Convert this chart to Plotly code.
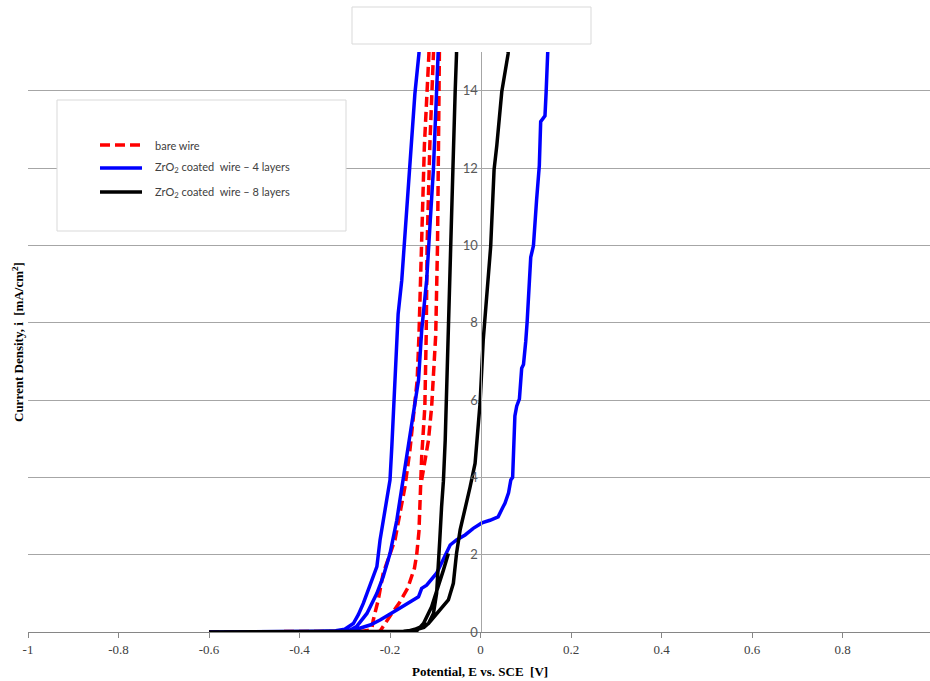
import plotly.graph_objects as go

# ---------------- data ----------------
# bare wire (dashed red) : potential E [V] vs. current density i [mA/cm2]
bare_E = [-0.600, -0.500, -0.400, -0.300, -0.260, -0.245, -0.240, -0.237, -0.226, -0.215,
          -0.200, -0.189, -0.178, -0.167, -0.156, -0.149, -0.140, -0.136, -0.130, -0.124,
          -0.114, -0.112,
          -0.102, -0.104, -0.112, -0.118, -0.120, -0.123, -0.130, -0.134, -0.136, -0.141,
          -0.146, -0.161, -0.180, -0.196, -0.215, -0.222, -0.232,
          None,
          -0.130, -0.115, -0.108, -0.099, -0.095, -0.092, -0.091, -0.090]
bare_i = [0.00, 0.00, 0.00, 0.01, 0.02, 0.05, 0.10, 0.31, 0.83, 1.52,
          2.03, 2.38, 3.07, 3.75, 4.70, 5.48, 6.50, 7.67, 10.00, 12.58,
          14.95, 16.00,
          16.00, 14.95, 12.58, 10.00, 7.67, 5.82, 4.53, 3.50, 2.60, 2.00,
          1.65, 1.13, 0.74, 0.48, 0.12, 0.02, 0.00,
          None,
          3.93, 4.96, 5.82, 7.67, 10.00, 12.58, 14.95, 16.00]

# ZrO2 coated wire - 4 layers (blue)
l4_E = [-0.600, -0.500, -0.420, -0.360, -0.320, -0.300, -0.281, -0.270, -0.259, -0.240,
        -0.229, -0.222, -0.211, -0.200, -0.196, -0.189, -0.182, -0.174, -0.163, -0.156,
        -0.145, -0.136, -0.133,
        -0.090, -0.093, -0.097, -0.104, -0.112, -0.119, -0.130, -0.137, -0.145, -0.156,
        -0.171, -0.185, -0.200, -0.215, -0.229, -0.251, -0.274, -0.288, -0.300,
        -0.274, -0.244, -0.222, -0.185, -0.160, -0.137, -0.130, -0.119, -0.097, -0.090,
        -0.075, -0.067, -0.053, -0.034, -0.016, 0.003, 0.021, 0.039, 0.050, 0.054,
        0.062, 0.067, 0.071, 0.073, 0.076, 0.080, 0.086, 0.091, 0.095, 0.100,
        0.103, 0.111, 0.117, 0.124, 0.130, 0.133, 0.1425, 0.145, 0.150, 0.152]
l4_i = [0.00, 0.00, 0.01, 0.02, 0.03, 0.07, 0.22, 0.45, 0.74, 1.34,
        1.69, 2.38, 3.15, 3.93, 4.79, 6.51, 8.23, 9.10, 10.82, 11.98,
        13.92, 14.96, 16.00,
        16.00, 14.95, 14.00, 11.98, 10.47, 9.10, 7.80, 6.51, 5.91, 5.05,
        3.93, 2.89, 2.03, 1.43, 1.00, 0.48, 0.14, 0.05, 0.03,
        0.07, 0.18, 0.31, 0.57, 0.74, 0.91, 1.13, 1.21, 1.52, 1.69,
        2.03, 2.25, 2.38, 2.51, 2.68, 2.82, 2.89, 2.98, 3.24, 3.33,
        3.60, 3.93, 4.00, 5.00, 5.59, 5.84, 6.03, 6.82, 6.92, 7.52,
        8.01, 9.69, 9.99, 11.18, 12.07, 13.20, 13.35, 13.95, 14.98, 16.00]

# ZrO2 coated wire - 8 layers (black)
l8_E = [-0.600, -0.500, -0.400, -0.300, -0.200, -0.170, -0.145, -0.125, -0.115, -0.104,
        -0.097, -0.093, -0.090, -0.086, -0.082, -0.078, -0.071, -0.066, -0.061, -0.056,
        -0.053, -0.052,
        0.064, 0.061, 0.047, 0.036, 0.030, 0.0225, 0.0099, 0.006, -0.001, -0.012,
        -0.023, -0.034, -0.045, -0.053, -0.060, -0.071, -0.090, -0.100, -0.115, -0.145,
        -0.165,
        -0.140, -0.126, -0.108, -0.093, -0.082, -0.071]
l8_i = [0.00, 0.00, 0.00, 0.00, 0.00, 0.02, 0.05, 0.12, 0.22, 0.48,
        1.00, 1.69, 2.38, 3.24, 3.90, 4.96, 7.55, 9.97, 11.96, 13.97,
        14.95, 16.00,
        16.00, 14.95, 13.97, 12.58, 11.96, 9.97, 7.98, 7.55, 5.91, 4.36,
        3.75, 3.24, 2.64, 2.03, 1.26, 0.83, 0.57, 0.40, 0.22, 0.07,
        0.01,
        0.04, 0.22, 0.65, 1.17, 1.60, 2.03]

series_names = ["bare wire",
                "ZrO<sub>2</sub> coated\u00a0 wire \u2013 4 layers",
                "ZrO<sub>2</sub> coated\u00a0 wire \u2013 8 layers"]

x_tickvals = [-1, -0.8, -0.6, -0.4, -0.2, 0, 0.2, 0.4, 0.6, 0.8]
x_ticktext = ["-1", "-0.8", "-0.6", "-0.4", "-0.2", "0", "0.2", "0.4", "0.6", "0.8"]
y_tickvals = [0, 2, 4, 6, 8, 10, 12, 14]

# ---------------- layout helpers (pixels -> paper) ----------------
W, H = 930, 681
ML, MR, MT, MB = 28, 0, 52, 49
PW, PH = W - ML - MR, H - MT - MB
X0_PX = 480.5            # pixel of E = 0
PX_PER_V = (X0_PX - ML)  # pixels for 1 V
x_range = [-1, -1 + PW / PX_PER_V]


def px(xp):
    return (xp - ML) / PW


def py(yp):
    return (H - MB - yp) / PH


RED, BLUE, BLACK = "#ff0000", "#0000ff", "#000000"

fig = go.Figure()
fig.add_trace(go.Scatter(x=bare_E, y=bare_i, mode="lines", name=series_names[0],
                         line=dict(color=RED, width=3.5, dash="10px,5px"),
                         connectgaps=False, showlegend=False))
fig.add_trace(go.Scatter(x=l4_E, y=l4_i, mode="lines", name=series_names[1],
                         line=dict(color=BLUE, width=3.5), showlegend=False))
fig.add_trace(go.Scatter(x=l8_E, y=l8_i, mode="lines", name=series_names[2],
                         line=dict(color=BLACK, width=3.5), connectgaps=False,
                         showlegend=False))

shapes = []
# empty title box at the top
shapes.append(dict(type="rect", xref="paper", yref="paper",
                   x0=px(352), x1=px(591), y0=py(44), y1=py(7),
                   line=dict(color="#d9d9d9", width=1), fillcolor="white", layer="above"))
# legend box
shapes.append(dict(type="rect", xref="paper", yref="paper",
                   x0=px(57), x1=px(346), y0=py(231), y1=py(100),
                   line=dict(color="#d9d9d9", width=1), fillcolor="white", layer="above"))
leg_y = [145, 168, 192]
leg_style = [dict(color=RED, width=3.5, dash="10px,5px"),
             dict(color=BLUE, width=3.5),
             dict(color=BLACK, width=3.5)]
annotations = []
for yy, st, nm in zip(leg_y, leg_style, series_names):
    shapes.append(dict(type="line", xref="paper", yref="paper",
                       x0=px(100), x1=px(142), y0=py(yy), y1=py(yy),
                       line=st, layer="above"))
    annotations.append(dict(xref="paper", yref="paper", x=px(153), y=py(yy),
                            xanchor="left", yanchor="middle", showarrow=False,
                            text=nm, font=dict(family="Lato", size=11, color="#404040")))

annotations.append(dict(xref="paper", yref="paper", x=px(480), y=py(671),
                        xanchor="center", yanchor="middle", showarrow=False,
                        text="<b>Potential, E vs. SCE\u00a0 [V]</b>",
                        font=dict(family="Liberation Serif", size=13, color="#000000")))
annotations.append(dict(xref="paper", yref="paper", x=px(18), y=py(342),
                        xanchor="center", yanchor="middle", showarrow=False, textangle=-90,
                        text="<b>Current Density, i\u00a0 [mA/cm<sup>2</sup>]</b>",
                        font=dict(family="Liberation Serif", size=13, color="#000000")))

fig.update_layout(
    width=W, height=H,
    margin=dict(l=ML, r=MR, t=MT, b=MB, pad=0),
    paper_bgcolor="white", plot_bgcolor="white",
    showlegend=False,
    xaxis=dict(range=x_range, tickvals=x_tickvals, ticktext=x_ticktext,
               showgrid=False, zeroline=False, showline=True, linecolor="#868686",
               linewidth=1, ticks="outside", ticklen=5, tickcolor="#868686",
               tickfont=dict(family="Liberation Serif", size=13, color="#404040")),
    yaxis=dict(range=[0, 15], tickvals=y_tickvals, anchor="free",
               position=px(X0_PX), showgrid=True, gridcolor="#a6a6a6", gridwidth=1,
               zeroline=False, showline=True, linecolor="#a6a6a6", linewidth=1,
               ticks="", tickfont=dict(family="Lato", size=13, color="#595959")),
    shapes=shapes, annotations=annotations,
)

fig.write_html("out.html")
